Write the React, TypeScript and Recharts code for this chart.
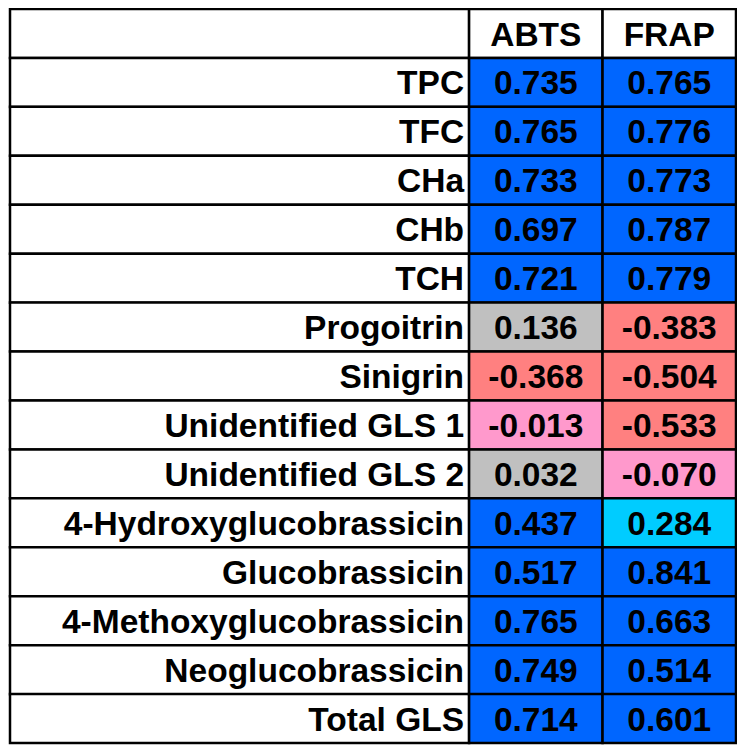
import React from 'react';
import { BarChart, Bar, XAxis, YAxis, Cell, LabelList } from 'recharts';

const rowLabels = [
  'TPC', 'TFC', 'CHa', 'CHb', 'TCH', 'Progoitrin', 'Sinigrin',
  'Unidentified GLS 1', 'Unidentified GLS 2', '4-Hydroxyglucobrassicin',
  'Glucobrassicin', '4-Methoxyglucobrassicin', 'Neoglucobrassicin', 'Total GLS',
];
const columnLabels = ['ABTS', 'FRAP'];
const abtsValues = [0.735, 0.765, 0.733, 0.697, 0.721, 0.136, -0.368, -0.013, 0.032, 0.437, 0.517, 0.765, 0.749, 0.714];
const frapValues = [0.765, 0.776, 0.773, 0.787, 0.779, -0.383, -0.504, -0.533, -0.070, 0.284, 0.841, 0.663, 0.514, 0.601];

const LABEL_W = 3.44;
const VAL_W = 1;
const FONT = '"Liberation Sans", Arial, sans-serif';
const FS = 33.5;

const colorFor = (v: number) => {
  if (v >= 0.4) return '#0066FF';
  if (v >= 0.2) return '#00CCFF';
  if (v >= 0) return '#C0C0C0';
  if (v > -0.2) return '#FF99CC';
  return '#FF8080';
};

type Row = {
  name: string;
  labelText: string;
  aText: string;
  fText: string;
  aFill: string;
  fFill: string;
};

const tableData: Row[] = [
  { name: 'header', labelText: '', aText: columnLabels[0], fText: columnLabels[1], aFill: '#FFFFFF', fFill: '#FFFFFF' },
  ...rowLabels.map((r, i) => ({
    name: r,
    labelText: r,
    aText: abtsValues[i].toFixed(3),
    fText: frapValues[i].toFixed(3),
    aFill: colorFor(abtsValues[i]),
    fFill: colorFor(frapValues[i]),
  })),
];

const rightText = (props: any) => {
  const { x, y, width, height, value } = props;
  if (!value) return null;
  return (
    <text x={x + width - 5} y={y + height / 2} dy={12} textAnchor="end"
      fontFamily={FONT} fontSize={FS} fontWeight="bold" fill="#000">{value}</text>
  );
};

const centerText = (props: any) => {
  const { x, y, width, height, value } = props;
  return (
    <text x={x + width / 2} y={y + height / 2} dy={12} textAnchor="middle"
      fontFamily={FONT} fontSize={FS} fontWeight="bold" fill="#000">{value}</text>
  );
};

export default function App() {
  return (
    <BarChart
      width={730}
      height={737}
      data={tableData}
      layout="vertical"
      margin={{ top: 1, right: 2, bottom: 2, left: 2 }}
      barCategoryGap={0}
      barGap={0}
    >
      <XAxis type="number" hide domain={[0, LABEL_W + 2 * VAL_W]} />
      <YAxis type="category" dataKey="name" hide />
      <Bar dataKey={() => LABEL_W} stackId="row" fill="#FFFFFF" stroke="#000" strokeWidth={2.5} isAnimationActive={false}>
        <LabelList dataKey="labelText" content={rightText} />
      </Bar>
      <Bar dataKey={() => VAL_W} stackId="row" stroke="#000" strokeWidth={2.5} isAnimationActive={false}>
        {tableData.map((d, i) => <Cell key={`a${i}`} fill={d.aFill} />)}
        <LabelList dataKey="aText" content={centerText} />
      </Bar>
      <Bar dataKey={() => VAL_W} stackId="row" stroke="#000" strokeWidth={2.5} isAnimationActive={false}>
        {tableData.map((d, i) => <Cell key={`f${i}`} fill={d.fFill} />)}
        <LabelList dataKey="fText" content={centerText} />
      </Bar>
    </BarChart>
  );
}
